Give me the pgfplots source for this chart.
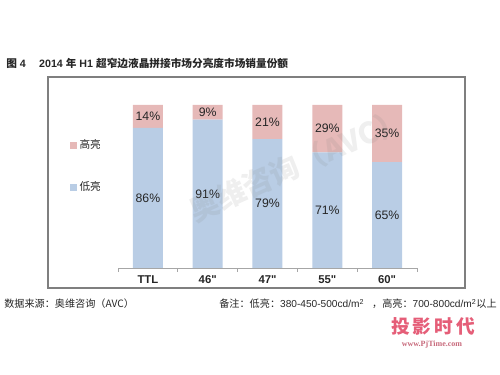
\documentclass[border=0pt]{standalone}
\usepackage{pgfplots}
\pgfplotsset{compat=1.18}
\usepackage{fontspec}
\setmainfont{Liberation Sans}
\newfontfamily\cjk{Noto Sans CJK SC}
\newfontfamily\serifw{Liberation Serif}
\definecolor{lowc}{HTML}{B9CDE5}
\definecolor{highc}{HTML}{E6B9B8}
\definecolor{txt}{HTML}{262626}
\definecolor{logo}{HTML}{E55E78}
\definecolor{frame}{HTML}{7F7F7F}
\begin{document}
\begin{tikzpicture}
\path[use as bounding box] (0pt,0pt) rectangle (375pt,281.25pt);
\draw[draw=frame, line width=1.1pt] (36pt,223.5pt) rectangle (348.75pt,65.25pt);
\node[anchor=west, inner sep=0pt, text=txt, font=\bfseries\fontsize{8}{9}\selectfont] at (4.5pt,234pt) {{\cjk 图} 4\hspace{10pt}2014 {\cjk 年} H1 {\cjk 超窄边液晶拼接市场分亮度市场销量份额}};
\begin{axis}[
  at={(88.5pt,80.25pt)}, anchor=south west,
  scale only axis, width=224.25pt, height=122.25pt,
  xmin=-0.5, xmax=4.5, ymin=0, ymax=100,
  axis x line*=bottom, axis y line=none,
  x axis line style={draw=gray!70, line width=0.6pt},
  xtick={0,1,2,3,4},
  xticklabels={TTL,46\textquotedbl,47\textquotedbl,55\textquotedbl,60\textquotedbl},
  major tick length=0pt,
  extra x ticks={-0.5,0.5,1.5,2.5,3.5,4.5},
  extra x tick labels={},
  extra x tick style={major tick length=3pt, tick align=outside, tick style={draw=gray!70, line width=0.6pt}},
  xticklabel style={font=\bfseries\fontsize{8.5}{10}\selectfont, text=txt, yshift=-2pt},
  ybar stacked, bar width=22.5pt,
  clip=false,
  nodes near coords={\pgfmathprintnumber[assume math mode=true]{\pgfplotspointmeta}\%},
  point meta=rawy,
  every node near coord/.append style={anchor=center, font=\fontsize{9.2}{10}\selectfont, text=txt},
  legend style={at={(-0.175,0.82)}, anchor=north west, draw=none, fill=none,
    font=\cjk\fontsize{8}{9}\selectfont, text=txt, row sep=19pt,
    legend cell align=left},
  legend image code/.code={\fill[#1] (0pt,-2.6pt) rectangle (5.2pt,2.6pt);},
  reverse legend,
]
\addplot[fill=lowc, draw=none] coordinates {(0,86) (1,91) (2,79) (3,71) (4,65)};
\addlegendentry{低亮}
\addplot[fill=highc, draw=none] coordinates {(0,14) (1,9) (2,21) (3,29) (4,35)};
\addlegendentry{高亮}
\end{axis}
\node[rotate=24, text=gray, opacity=0.13, font=\cjk\bfseries\fontsize{22}{24}\selectfont] at (222.75pt,157.5pt) {奥维咨询（AVC）};
\node[anchor=west, inner sep=0pt, text=txt, font=\cjk\fontsize{7.6}{9}\selectfont] at (3pt,53.25pt) {数据来源：奥维咨询（AVC）};
\node[anchor=east, inner sep=0pt, text=txt, font=\cjk\fontsize{7.6}{9}\selectfont] at (372.75pt,53.25pt) {备注：低亮：{\fontspec{Liberation Sans}380-450-500cd/m\textsuperscript{2}}\hspace{6pt}，高亮：{\fontspec{Liberation Sans}700-800cd/m\textsuperscript{2}}以上};
\node[text=logo, font=\cjk\bfseries\fontsize{14}{16}\selectfont] at (324.75pt,36.75pt) {投\,影\,时\,代};
\node[text=logo!70!gray, font=\serifw\bfseries\fontsize{6}{7}\selectfont] at (324pt,22.5pt) {www.PjTime.com};
\end{tikzpicture}
\end{document}
